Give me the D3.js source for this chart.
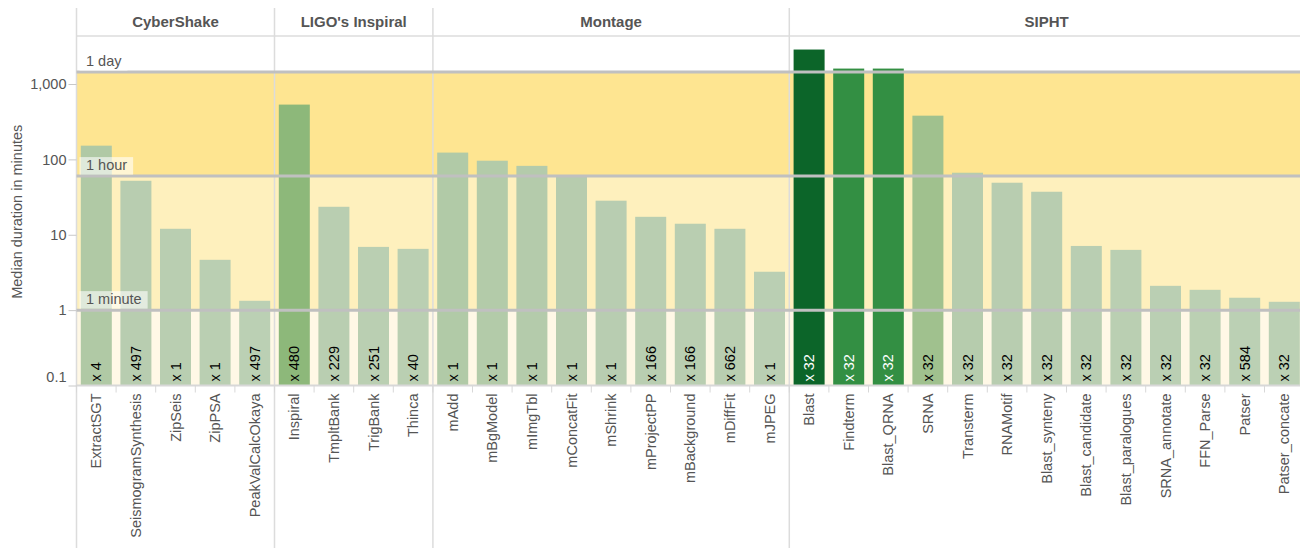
<!DOCTYPE html>
<html>
<head>
<meta charset="utf-8">
<script src="https://cdn.jsdelivr.net/npm/d3@7"></script>
<style>
  html, body { margin: 0; padding: 0; background: #fff; overflow: hidden; }
  svg { display: block; font-family: "Liberation Sans", Arial, Helvetica, sans-serif; }
</style>
</head>
<body>
<svg id="chart" width="1300" height="548"></svg>
<script>
// Workflow groups and their tasks, in drawing order
const workflows = ["CyberShake", "LIGO's Inspiral", "Montage", "SIPHT"];
const taskCountsPerWorkflow = [5, 4, 9, 13];

const taskNames = [
  "ExtractSGT", "SeismogramSynthesis", "ZipSeis", "ZipPSA", "PeakValCalcOkaya",
  "Inspiral", "TmpltBank", "TrigBank", "Thinca",
  "mAdd", "mBgModel", "mImgTbl", "mConcatFit", "mShrink", "mProjectPP", "mBackground", "mDiffFit", "mJPEG",
  "Blast", "Findterm", "Blast_QRNA", "SRNA", "Transterm", "RNAMotif", "Blast_synteny",
  "Blast_candidate", "Blast_paralogues", "SRNA_annotate", "FFN_Parse", "Patser", "Patser_concate"
];

// Median task duration, minutes
const medianMinutes = [
  152, 52, 12.0, 4.65, 1.33,
  533, 23.5, 6.9, 6.5,
  123, 96, 82, 61, 28.3, 17.3, 14.0, 12.0, 3.23,
  2865, 1602, 1602, 380, 66.5, 49, 37.2,
  7.1, 6.3, 2.1, 1.86, 1.46, 1.29
];

// Number of task instances in each workflow
const instanceCounts = [
  4, 497, 1, 1, 497,
  480, 229, 251, 40,
  1, 1, 1, 1, 1, 166, 166, 662, 1,
  32, 32, 32, 32, 32, 32, 32,
  32, 32, 32, 32, 584, 32
];

// Reference durations shown as horizontal rules
const referenceLabels = ["1 day", "1 hour", "1 minute"];
const referenceMinutes = [1440, 60, 1];

const yTickValues = [0.1, 1, 10, 100, 1000];
const yTitle = "Median duration in minutes";

// ---- layout ----
const svg = d3.select("#chart");
const W = 1300, H = 548;
const plotLeft = 76.5;
const step = 39.6;
const plotRight = plotLeft + step * taskNames.length;
const headerTop = 8, headerBottom = 36;
const baseY = 385.5;

const x = d3.scaleBand()
  .domain(taskNames)
  .range([plotLeft, plotRight])
  .paddingInner(0.217)
  .paddingOuter(0.1085);

const y = d3.scaleLog()
  .domain([0.1, 1000])
  .range([baseY, 84]);

const color = d3.scaleLog()
  .domain([1, 50, 150, 380, 533, 1600, 2900])
  .range(["#bbd0b4", "#b8cdb0", "#b0c9a5", "#a0c18e", "#8db87a", "#338f43", "#0b6428"])
  .clamp(true);

const tasks = taskNames.map((name, i) => ({
  name, median: medianMinutes[i], count: instanceCounts[i]
}));

// workflow boundaries along x
let acc = 0;
const groups = workflows.map((w, i) => {
  const start = acc;
  acc += taskCountsPerWorkflow[i];
  return { name: w, x0: plotLeft + start * step, x1: plotLeft + acc * step };
});

// ---- background bands between reference durations ----
const bandFills = ["#fee591", "#fef0bd", "#fff8e6"];
const bandEdges = [referenceMinutes[0], referenceMinutes[1], referenceMinutes[2], 0.1];
svg.append("g").selectAll("rect")
  .data(bandFills)
  .join("rect")
  .attr("x", plotLeft)
  .attr("width", plotRight - plotLeft)
  .attr("y", (d, i) => y(bandEdges[i]))
  .attr("height", (d, i) => y(bandEdges[i + 1]) - y(bandEdges[i]))
  .attr("fill", d => d);

// ---- facet frame ----
const frame = svg.append("g");
frame.append("line")
  .attr("x1", plotLeft).attr("x2", plotRight)
  .attr("y1", headerBottom).attr("y2", headerBottom)
  .attr("stroke", "#dcdcdc").attr("stroke-width", 1.5);
frame.selectAll("line.sep")
  .data(groups)
  .join("line")
  .attr("class", "sep")
  .attr("x1", d => d.x0).attr("x2", d => d.x0)
  .attr("y1", headerTop).attr("y2", H)
  .attr("stroke", "#dcdcdc").attr("stroke-width", 1.5);
frame.selectAll("text")
  .data(groups)
  .join("text")
  .attr("x", d => (d.x0 + d.x1) / 2)
  .attr("y", 27)
  .attr("text-anchor", "middle")
  .attr("font-size", 15)
  .attr("font-weight", "bold")
  .attr("fill", "#555")
  .text(d => d.name);

// ---- bars ----
svg.append("g").selectAll("rect")
  .data(tasks)
  .join("rect")
  .attr("x", d => x(d.name))
  .attr("width", x.bandwidth())
  .attr("y", d => y(d.median))
  .attr("height", d => baseY - y(d.median))
  .attr("fill", d => color(d.median));

// ---- x axis: domain line, ticks between bands, rotated labels ----
const xAxis = svg.append("g");
xAxis.append("line")
  .attr("x1", plotLeft).attr("x2", plotRight)
  .attr("y1", baseY).attr("y2", baseY)
  .attr("stroke", "#d8d8d8").attr("stroke-width", 2);
xAxis.selectAll("line.tick")
  .data(taskNames)
  .join("line")
  .attr("class", "tick")
  .attr("x1", d => x(d) - step * 0.1085).attr("x2", d => x(d) - step * 0.1085)
  .attr("y1", baseY).attr("y2", baseY + 7)
  .attr("stroke", "#d8d8d8").attr("stroke-width", 1);
xAxis.selectAll("text")
  .data(taskNames)
  .join("text")
  .attr("transform", d => `translate(${x(d) + x.bandwidth() / 2},${baseY + 8}) rotate(-90)`)
  .attr("text-anchor", "end")
  .attr("dy", "0.35em")
  .attr("font-size", 14.5)
  .attr("fill", "#555")
  .text(d => d);

// ---- reference rules ----
const refs = referenceLabels.map((label, i) => ({ label, minutes: referenceMinutes[i] }));
svg.append("g").selectAll("line")
  .data(refs)
  .join("line")
  .attr("x1", plotLeft).attr("x2", plotRight)
  .attr("y1", d => y(d.minutes)).attr("y2", d => y(d.minutes))
  .attr("stroke", "#c0c0c0").attr("stroke-width", 3);

const refLabel = svg.append("g").selectAll("g")
  .data(refs)
  .join("g")
  .attr("transform", d => `translate(${groups[0].x0 + 9.5},${y(d.minutes) - 6.5})`);
refLabel.append("rect").attr("class", "box");
refLabel.append("text")
  .attr("font-size", 14.5)
  .attr("fill", "#555")
  .text(d => d.label);
refLabel.each(function () {
  const g = d3.select(this);
  const w = g.select("text").node().getComputedTextLength();
  g.select("rect")
    .attr("x", -6.5).attr("y", -12.5)
    .attr("width", w + 12.5).attr("height", 17.5)
    .attr("fill", "#fff").attr("fill-opacity", 0.6);
});

// ---- instance counts at the foot of each bar ----
svg.append("g").selectAll("text")
  .data(tasks)
  .join("text")
  .attr("transform", d => `translate(${x(d.name) + x.bandwidth() / 2},${baseY - 4}) rotate(-90)`)
  .attr("dy", "0.35em")
  .attr("font-size", 14.5)
  .attr("fill", d => d.median > 1000 ? "#fff" : "#000")
  .text(d => "x " + d.count);

// ---- y axis ----
const yAxis = svg.append("g").attr("transform", `translate(${plotLeft},0)`)
  .call(d3.axisLeft(y).tickValues(yTickValues).tickFormat(d3.format(",")).tickSize(8).tickPadding(2));
yAxis.select(".domain").remove();
yAxis.selectAll(".tick line").attr("stroke", "#c8c8c8");
yAxis.selectAll(".tick text")
  .attr("font-size", 14.5)
  .attr("font-family", null)
  .attr("fill", "#555")
  .attr("dy", d => d === yTickValues[0] ? "-0.25em" : "0.32em");

svg.append("text")
  .attr("transform", `translate(22,${(headerBottom + baseY) / 2 + 1}) rotate(-90)`)
  .attr("text-anchor", "middle")
  .attr("font-size", 14.5)
  .attr("fill", "#555")
  .text(yTitle);
</script>
</body>
</html>
